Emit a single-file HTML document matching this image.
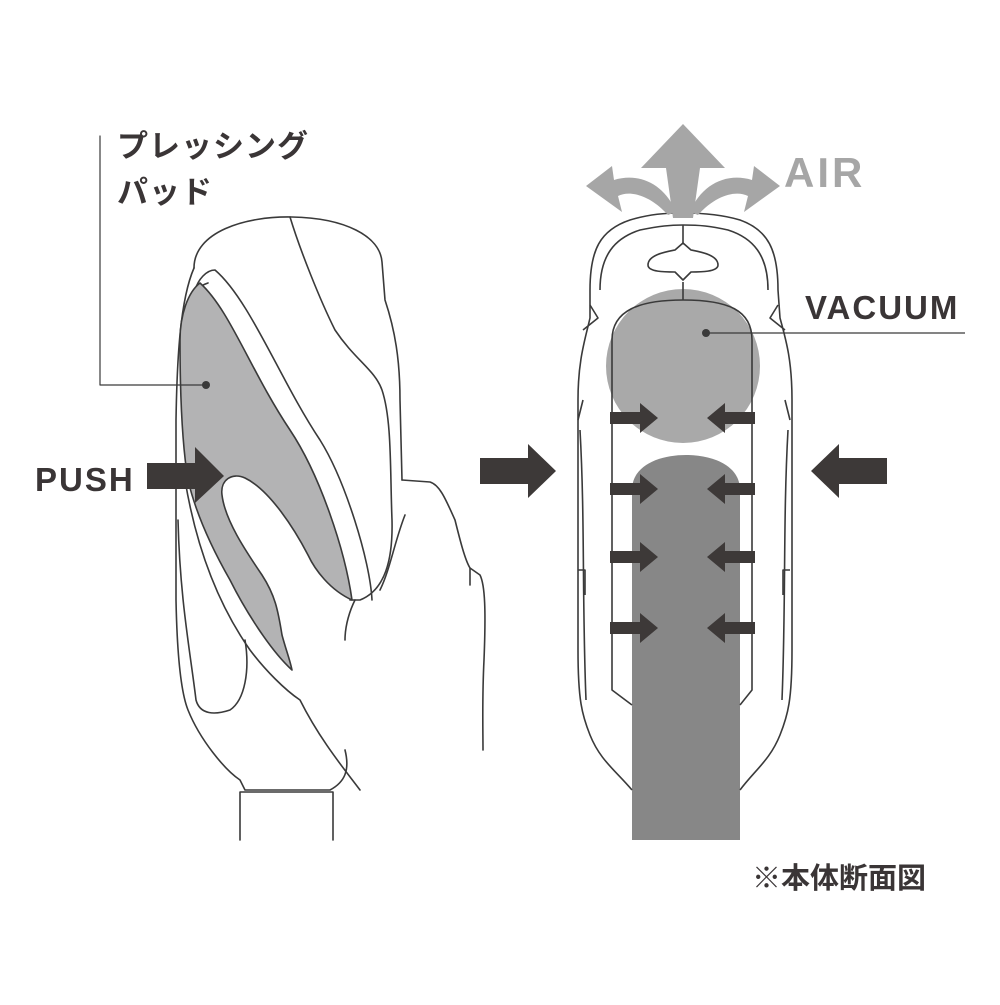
<!DOCTYPE html>
<html><head><meta charset="utf-8"><style>
html,body{margin:0;padding:0;background:#fff;}
svg{display:block;}
</style></head><body>
<svg width="1000" height="1005" viewBox="0 0 1000 1005" xmlns="http://www.w3.org/2000/svg">
<g fill="none" stroke="#3a3a3a" stroke-width="1.6" stroke-linejoin="round" stroke-linecap="round">
<path d="M240,840 L240,792 L333,792 L333,840" />
<path d="M194,268 C194,232 245,216 292,217 C345,218 380,236 382,262 L385,300 C395,330 400,360 400,400 L402,480" />
<path d="M194,268 C180,300 177,360 176,420 L176,600 C177,650 180,690 188,710 C200,740 225,770 240,780 L245,790 L330,790 C345,782 350,770 345,750" />
<path d="M178,520 C180,600 190,650 196,700 C200,715 215,715 230,710 C245,700 250,670 245,640" />
<path d="M290,217 C300,250 320,300 335,330 C355,360 375,370 382,390 C392,420 390,470 392,520 C393,560 385,590 360,600 L350,600" />
<path d="M195,290 C198,280 206,270 215,270 C250,300 280,380 320,440 C345,480 370,560 372,600" />
<path d="M190,300 C196,288 202,285 208,283" />
<path fill="#b3b3b4" d="M200,283 C230,310 250,370 290,430 C320,475 345,550 352,600 C330,590 315,570 308,555 C295,530 270,490 245,478 C232,472 220,480 222,495 C225,520 245,550 262,575 C275,595 278,610 282,635 C286,650 290,660 292,670 C270,650 245,610 230,580 C210,545 195,510 188,480 C183,450 180,400 180,340 C180,315 188,292 200,283 Z" />
<path d="M185,480 C195,540 215,600 250,650 C265,670 285,690 300,700 C320,740 345,770 360,790" />
<path d="M402,480 L430,482 C440,485 446,500 455,520 C460,540 465,560 470,568 L480,575 C485,585 486,610 484,660 C482,700 483,730 483,750" />
<path d="M470,568 L470,585" />
<path d="M405,515 C395,540 390,570 380,590" />
<path d="M355,600 C350,610 345,625 345,640" />
<path d="M100,136 L100,385 L206,385" stroke-width="1.2"/>
</g>
<circle cx="206" cy="385" r="4" fill="#3a3a3a"/>
<path d="M147,463 L195,463 L195,447 L224,476 L195,503 L195,489 L147,489 Z" fill="#3d3938"/>

<circle cx="683" cy="366" r="77" fill="#a9a9a9"/>
<path d="M632,840 L632,490 C632,465 660,455 686,455 C712,455 740,465 740,490 L740,840 Z" fill="#878787"/>
<g fill="none" stroke="#3a3a3a" stroke-width="1.6" stroke-linejoin="round">
<path d="M632,790 C615,770 600,760 590,735 C582,715 578,700 578,650 L578,400 C578,360 585,340 590,318 L590,290 C590,250 600,230 630,220 C650,214 665,213 683,213 C700,213 720,214 740,220 C768,230 778,250 778,290 L780,318 C786,340 792,360 792,400 L792,650 C792,700 788,715 780,735 C770,760 755,770 740,790" />
<path d="M600,290 C600,255 615,238 640,230 C660,226 670,225 683,225 C700,225 710,226 728,230 C753,238 768,255 768,290" />
<path d="M583,330 L598,318 L590,305 M785,330 L770,318 L778,305" />
<path d="M583,400 L578,420 M785,400 L790,420" />
<path d="M580,430 C585,520 582,600 586,700 M788,430 C783,520 786,600 782,700" />
<path d="M578,570 L585,570 L585,595 M790,570 L783,570 L783,595" />
<path d="M632,705 L612,690 L612,340 C612,310 640,300 683,300 C728,300 752,310 752,340 L752,690 L740,705" />
<path d="M683,300 L683,282 M683,243 L683,225" />
<path d="M648,265 C648,255 665,252 675,250 L683,243 L691,250 C701,252 718,255 718,265 C718,272 700,272 691,272 L683,280 L675,272 C665,272 648,272 648,265 Z" />
<path d="M706,333 L965,333" stroke-width="1.2"/>
</g>
<circle cx="706" cy="333" r="4" fill="#3a3a3a"/>
<g fill="#3d3938">
<path id="ra" d="M610,412 L640,412 L640,403 L658,418 L640,433 L640,424 L610,424 Z"/>
<use href="#ra" y="71"/><use href="#ra" y="139"/><use href="#ra" y="210"/>
<path id="la" d="M755,412 L725,412 L725,403 L707,418 L725,433 L725,424 L755,424 Z"/>
<use href="#la" y="71"/><use href="#la" y="139"/><use href="#la" y="210"/>
<path d="M480,458 L528,458 L528,444 L556,471 L528,498 L528,484 L480,484 Z"/>
<path d="M887,458 L839,458 L839,444 L811,471 L839,498 L839,484 L887,484 Z"/>
</g>
<g fill="#a6a6a6">
<path d="M683,124 L725,168 L700,168 L693,218 L673,218 L666,168 L641,168 Z"/>
<path d="M668,215 C650,195 630,190 618,196 L622,212 L586,186 L612,166 L614,180 C640,172 665,185 676,212 Z"/>
<path d="M698,215 C716,195 736,190 748,196 L744,212 L780,186 L754,166 L752,180 C726,172 701,185 690,212 Z"/>
</g>
<g font-family="'Liberation Sans','Noto Sans CJK JP',sans-serif" font-weight="bold">
<text x="117" y="157" font-size="31" fill="#3a3536" letter-spacing="1">プレッシング</text>
<text x="117" y="203" font-size="31" fill="#3a3536" letter-spacing="1">パッド</text>
<text x="35" y="491" font-size="33" fill="#3a3536" letter-spacing="2">PUSH</text>
<text x="784" y="187" font-size="42" fill="#a6a6a6" letter-spacing="3">AIR</text>
<text x="805" y="319" font-size="33" fill="#3a3536" letter-spacing="2">VACUUM</text>
<text x="752" y="888" font-size="29" fill="#3a3536">※本体断面図</text>
</g>
</svg>
</body></html>
